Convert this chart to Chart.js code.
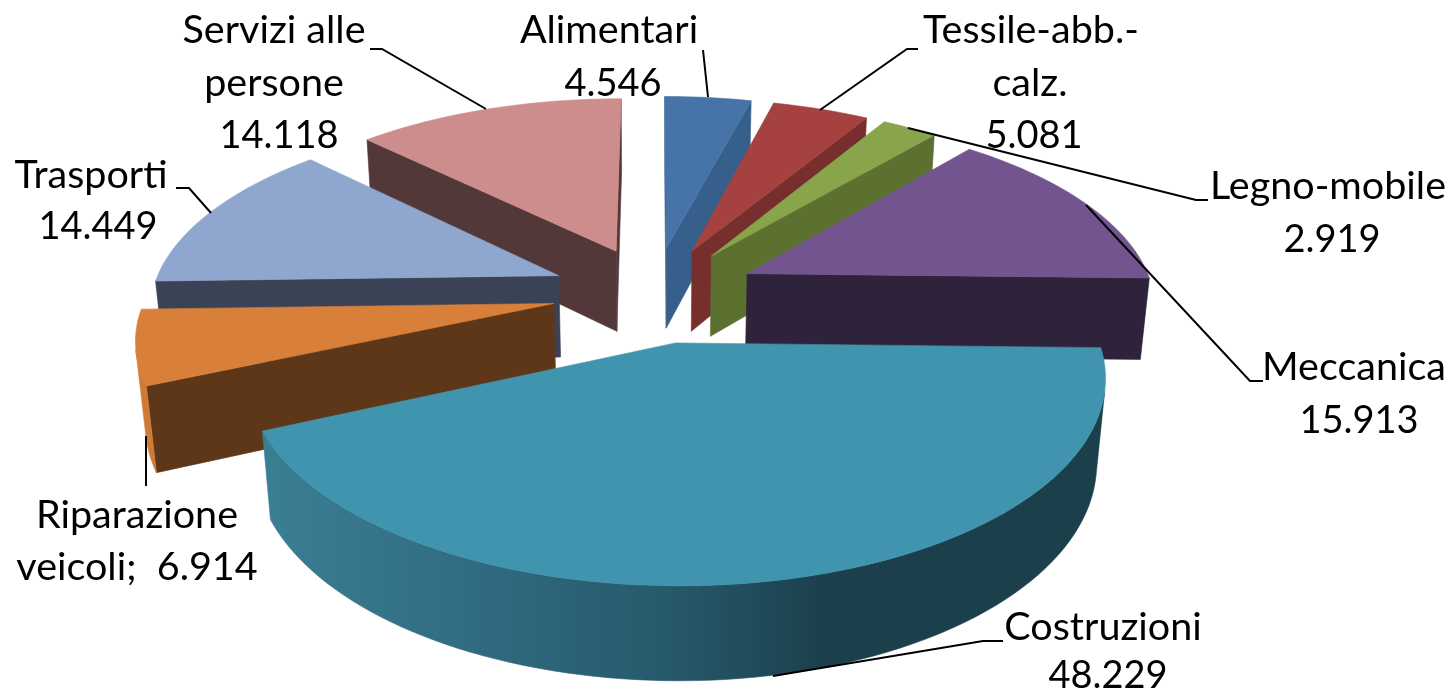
<!DOCTYPE html>
<html><head><meta charset="utf-8">
<style>html,body{margin:0;padding:0;background:#fff}#w{width:1452px;height:695px}</style>
<script src="https://cdn.jsdelivr.net/npm/chart.js@4"></script></head>
<body><div id="w"><canvas id="c" width="1452" height="695"></canvas></div>
<script>
const categories = ["Alimentari","Tessile-abb.-calz.","Legno-mobile","Meccanica","Costruzioni","Riparazione veicoli","Trasporti","Servizi alle persone"];
const values = [4546,5081,2919,15913,48229,6914,14449,14118];
const topColors = ["#4674A8","#A5413E","#88A54C","#72548E","#4094AE","#D8803A","#8FA7CE","#CC8D8C"];
const wallColors = ["#375F8B","#772F2D","#5C7030","#2E233B","#3A7E93","#5E3718","#3A4255","#523838"];
const rimColors = ["#375F8B","#772F2D","#5C7030","#3A2C4A","#3A7E93","#CF7A35","#6F84A8","#A87272"];
const explode = [25,25,25,25.5,26,25,25.5,25];
const drawOrder = [7,0,1,2,3,6,5,4];
const labelLines = [
 {t:"Alimentari",x:609,y:43},{t:"4.546",x:613,y:96,n:1},
 {t:"Tessile-abb.-",x:1031,y:43},{t:"calz.",x:1030,y:96},{t:"5.081",x:1034,y:148,n:1},
 {t:"Legno-mobile",x:1328,y:199},{t:"2.919",x:1332,y:252,n:1},
 {t:"Meccanica",x:1354,y:380},{t:"15.913",x:1359,y:433,n:1},
 {t:"Costruzioni",x:1103,y:640},{t:"48.229",x:1108,y:688,n:1},
 {t:"Riparazione",x:137,y:528},{t:"veicoli;  6.914",x:137,y:580},
 {t:"Trasporti",x:91,y:188},{t:"14.449",x:98,y:239,n:1},
 {t:"Servizi alle",x:274,y:43},{t:"persone",x:274,y:96},{t:"14.118",x:279,y:148,n:1}
];
const leaders = [
 [[703,50],[708,97]],
 [[918,49],[907,49],[820,110]],
 [[1208,200],[1196,200],[908,128]],
 [[1263,381],[1250,381],[1086,205]],
 [[1003,641],[983,641],[773,676]],
 [[146,436],[146,486]],
 [[176,188],[189,188],[211,213]],
 [[370,49],[382,49],[486,109]]
];
const view = {cx:654, cy:293, S:407, a:0.155, alpha:27.5*Math.PI/180, h:0.232};
function project(X,Y,Z){
  const s=Math.sin(view.alpha), c=Math.cos(view.alpha), D=c/view.a, F=view.S*D;
  const yv=Y*s+Z*c, z=D+Y*c-Z*s;
  return [view.cx+F*X/z, view.cy-F*yv/z];
}
function fillPoly(ctx,pts,style){
  ctx.beginPath();pts.forEach((p,i)=>i?ctx.lineTo(p[0],p[1]):ctx.moveTo(p[0],p[1]));ctx.closePath();
  ctx.fillStyle=style;ctx.strokeStyle=style;ctx.lineWidth=0.6;ctx.fill();ctx.stroke();
}
function area(q){let A=0;q.forEach((p,i)=>{const n=q[(i+1)%q.length];A+=p[0]*n[1]-n[0]*p[1]});return A/2}
const pie3d={id:'pie3d',
 beforeDatasetDraw(chart){
  const ctx=chart.ctx, arcs=chart.getDatasetMeta(0).data;
  ctx.save();
  const tealRim=ctx.createLinearGradient(270,0,830,0);
  tealRim.addColorStop(0,"#3A7E93");tealRim.addColorStop(.4,"#30697F");tealRim.addColorStop(.72,"#26586A");tealRim.addColorStop(1,"#1B3F4B");
  drawOrder.forEach(i=>{
    const arc=arcs[i], R=arc.outerRadius, e=arc.options.offset/R;
    const a0=arc.startAngle+Math.PI/2, a1=arc.endAngle+Math.PI/2, m=(a0+a1)/2;
    const ox=e*Math.sin(m), oy=e*Math.cos(m);
    const n=Math.max(6,Math.ceil((a1-a0)/0.03));
    const rim=t=>{const th=a0+(a1-a0)*t;return [ox+Math.sin(th),oy+Math.cos(th)]};
    const P=(w,Z)=>project(w[0],w[1],Z), A=[ox,oy];
    const top=[P(A,0)];
    for(let k=0;k<=n;k++) top.push(P(rim(k/n),0));
    const style=i===4?tealRim:rimColors[i];
    const w0=rim(0),w9=rim(1);
    [[P(A,0),P(w0,0),P(w0,-view.h),P(A,-view.h)],[P(w9,0),P(A,0),P(A,-view.h),P(w9,-view.h)]]
      .forEach(q=>{if(area(q)<0) fillPoly(ctx,q,wallColors[i])});
    let upper=[],lower=[];
    const flush=()=>{if(upper.length){fillPoly(ctx,upper.concat(lower.reverse()),style);upper=[];lower=[]}};
    for(let k=0;k<n;k++){
      const w1=rim(k/n),w2=rim((k+1)/n);
      const q=[P(w1,0),P(w2,0),P(w2,-view.h),P(w1,-view.h)];
      if(area(q)<0){
        if(!upper.length){upper.push(q[0]);lower.push(q[3]);}
        upper.push(q[1]);lower.push(q[2]);
      } else flush();
    }
    flush();
    fillPoly(ctx,top,topColors[i]);
  });
  ctx.restore();
  return false;
 },
 afterDatasetsDraw(chart){
  const ctx=chart.ctx;ctx.save();
  ctx.strokeStyle="#000";ctx.lineWidth=2;
  leaders.forEach(l=>{ctx.beginPath();l.forEach((p,i)=>i?ctx.lineTo(p[0],p[1]):ctx.moveTo(p[0],p[1]));ctx.stroke()});
  ctx.fillStyle="#000";ctx.textAlign="center";ctx.textBaseline="alphabetic";
  labelLines.forEach(l=>{ctx.font=(l.n?"38px":"39.5px")+" Lato";ctx.fillText(l.t,l.x,l.y)});
  ctx.restore();
 }
};
new Chart(document.getElementById('c'),{
 type:'pie',
 data:{labels:categories,datasets:[{data:values,backgroundColor:topColors,borderWidth:0,offset:explode}]},
 options:{responsive:false,animation:false,radius:100,rotation:0,
  plugins:{legend:{display:false},tooltip:{enabled:false}}},
 plugins:[pie3d]
});
</script></body></html>
